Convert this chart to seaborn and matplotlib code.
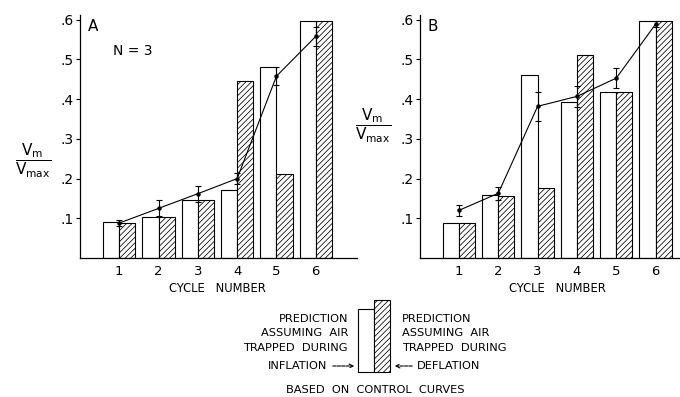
import numpy as np
import pandas as pd
import matplotlib
matplotlib.use("Agg")
import matplotlib.pyplot as plt
import seaborn as sns
from matplotlib.patches import Rectangle

# ---------------- data ----------------
cycles = ["1", "2", "3", "4", "5", "6"]
ytick_vals = [0.1, 0.2, 0.3, 0.4, 0.5, 0.6]
ytick_labels = [".1", ".2", ".3", ".4", ".5", ".6"]

# Panel A
a_inflation = [0.090, 0.103, 0.145, 0.172, 0.480, 0.597]
a_deflation = [0.089, 0.103, 0.145, 0.447, 0.211, 0.597]
a_measured = [0.088, 0.125, 0.162, 0.200, 0.458, 0.558]
a_error = [0.008, 0.020, 0.020, 0.014, 0.023, 0.025]

# Panel B
b_inflation = [0.088, 0.158, 0.461, 0.392, 0.418, 0.598]
b_deflation = [0.088, 0.157, 0.177, 0.511, 0.418, 0.598]
b_measured = [0.120, 0.163, 0.382, 0.407, 0.453, 0.589]
b_error = [0.014, 0.016, 0.037, 0.026, 0.025, 0.008]

panel_labels = ["A", "B"]

# ---------------- style ----------------
sns.set_theme(style="white")
plt.rcParams["font.family"] = ["DejaVu Sans"]
plt.rcParams["mathtext.fontset"] = "dejavusans"
plt.rcParams["hatch.linewidth"] = 0.55
plt.rcParams["hatch.color"] = "black"
for k in ["text.color", "axes.labelcolor", "xtick.color", "ytick.color", "axes.edgecolor"]:
    plt.rcParams[k] = "black"

fig = plt.figure(figsize=(6.8, 3.97), dpi=100)
H = 397.0
W = 680.0

def fx(px):
    return px / W

def fy(py):
    return 1 - py / H

axA = fig.add_axes([fx(80), fy(258), fx(357) - fx(80), fy(15) - fy(258)])
axB = fig.add_axes([fx(420), fy(258), fx(680) - fx(420), fy(15) - fy(258)])

HATCH = "//////"

def draw_panel(ax, infl, defl, meas, err, label, xlim):
    df = pd.DataFrame({
        "cycle": cycles * 2,
        "value": list(infl) + list(defl),
        "kind": ["inflation"] * 6 + ["deflation"] * 6,
    })
    sns.barplot(data=df, x="cycle", y="value", hue="kind", order=cycles,
                hue_order=["inflation", "deflation"],
                palette=["white", "white"], edgecolor="black", linewidth=0.8,
                width=0.82, dodge=True, legend=False, ax=ax, errorbar=None,
                saturation=1)
    for p in ax.containers[1]:
        p.set_hatch(HATCH)
    xpos = np.arange(len(cycles))
    ax.errorbar(xpos, meas, yerr=err, color="black", lw=0.8, capsize=2.5,
                capthick=0.8, elinewidth=0.8, marker="o", ms=2.2, zorder=5)
    ax.set_ylim(0, 0.612)
    ax.set_xlim(*xlim)
    ax.set_yticks(ytick_vals)
    ax.set_yticklabels(ytick_labels, fontsize=10)
    ax.set_xticks(xpos)
    ax.set_xticklabels(cycles, fontsize=9.5)
    ax.tick_params(axis="y", direction="out", length=3, width=0.8, pad=1.5, left=True)
    ax.tick_params(axis="x", length=0, pad=5)
    ax.set_xlabel("")
    ax.set_ylabel("")
    for s in ["top", "right"]:
        ax.spines[s].set_visible(False)
    for s in ["left", "bottom"]:
        ax.spines[s].set_color("black")
        ax.spines[s].set_linewidth(0.9)
    ax.set_facecolor("white")
    ax.text(0.03, 0.985, label, transform=ax.transAxes, fontsize=11,
            va="top", ha="left")
    tr = matplotlib.transforms.blended_transform_factory(ax.transData, fig.transFigure)
    ax.text(2.5, fy(289), "CYCLE   NUMBER", transform=tr, fontsize=8.3,
            ha="center", va="center")

draw_panel(axA, a_inflation, a_deflation, a_measured, a_error, panel_labels[0], (-1.0, 6.05))
draw_panel(axB, b_inflation, b_deflation, b_measured, b_error, panel_labels[1], (-0.99, 5.62))

axA.text(0.12, 0.85, "N = 3", transform=axA.transAxes, fontsize=10, va="center")

ylab = r"$\dfrac{\mathrm{V_m}}{\mathrm{V_{max}}}$"
fig.text(fx(33), fy(161), ylab, fontsize=11, ha="center", va="center")
fig.text(fx(373), fy(126), ylab, fontsize=11, ha="center", va="center")

# ---------------- legend key ----------------
fig.patches.append(Rectangle((fx(358), fy(372)), fx(374) - fx(358), fy(309) - fy(372),
                             transform=fig.transFigure, facecolor="white",
                             edgecolor="black", linewidth=0.8))
fig.patches.append(Rectangle((fx(374), fy(372)), fx(390) - fx(374), fy(300) - fy(372),
                             transform=fig.transFigure, facecolor="white",
                             edgecolor="black", linewidth=0.8, hatch=HATCH))

fs = 8.2
left_lines = ["PREDICTION", "ASSUMING  AIR", "TRAPPED  DURING"]
ys = [319, 333, 348]
for t, yy in zip(left_lines, ys):
    fig.text(fx(348), fy(yy), t, fontsize=fs, ha="right", va="center")
    fig.text(fx(402), fy(yy), t, fontsize=fs, ha="left", va="center")
fig.text(fx(327), fy(366), "INFLATION", fontsize=fs, ha="right", va="center")
fig.text(fx(417), fy(366), "DEFLATION", fontsize=fs, ha="left", va="center")
fig.add_artist(matplotlib.patches.FancyArrowPatch(
    (fx(330), fy(366)), (fx(357), fy(366)), transform=fig.transFigure,
    arrowstyle="->", mutation_scale=7, linestyle=(0, (3, 1)), lw=0.8, color="black"))
fig.add_artist(matplotlib.patches.FancyArrowPatch(
    (fx(415), fy(366)), (fx(392), fy(366)), transform=fig.transFigure,
    arrowstyle="->", mutation_scale=7, linestyle=(0, (3, 1)), lw=0.8, color="black"))
fig.text(fx(375), fy(390), "BASED  ON  CONTROL  CURVES", fontsize=fs,
         ha="center", va="center")

fig.savefig("out.png", dpi=100, facecolor="white")
